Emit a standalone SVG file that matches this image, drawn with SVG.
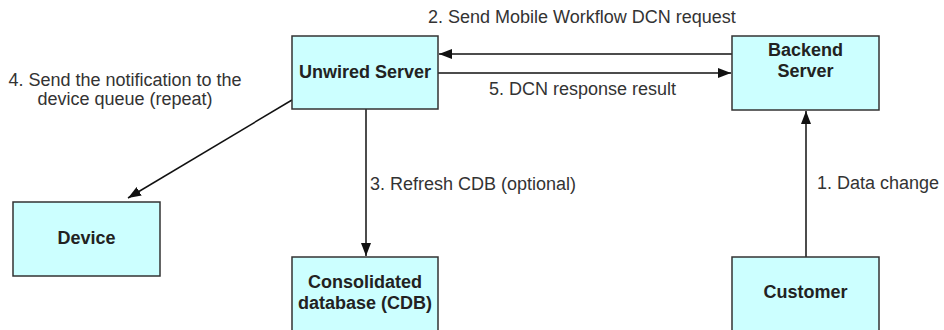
<svg xmlns="http://www.w3.org/2000/svg" width="944" height="330" viewBox="0 0 944 330">
<style>
.box{fill:#ccffff;stroke:#333;stroke-width:1.5}
.nl{font-family:"Liberation Sans",Arial,sans-serif;font-weight:bold;font-size:18px;fill:#222;text-anchor:middle}
.lbl{font-family:"Liberation Sans",Arial,sans-serif;font-size:18px;fill:#333}
.con{stroke:#111;stroke-width:1.5;fill:none;marker-end:url(#ah)}
</style>
<defs>
<marker id="ah" markerUnits="userSpaceOnUse" markerWidth="14" markerHeight="10" refX="13" refY="5" orient="auto">
<path d="M0,0 L13,5 L0,10 Z" fill="#111"/>
</marker>
</defs>
<rect width="944" height="330" fill="#fff"/>
<g id="connectors">
<line class="con" x1="732" y1="54" x2="439" y2="54"/>
<line class="con" x1="438" y1="73" x2="731" y2="73"/>
<line class="con" x1="366" y1="109" x2="366" y2="256"/>
<line class="con" x1="806" y1="257" x2="806" y2="111"/>
<line class="con" x1="292" y1="100" x2="128" y2="198"/>
</g>
<g id="labels">
<text class="lbl" x="428" y="23">2. Send Mobile Workflow DCN request</text>
<text class="lbl" x="489" y="95">5. DCN response result</text>
<text class="lbl" x="125" y="86" text-anchor="middle">4. Send the notification to the</text>
<text class="lbl" x="125" y="104.5" text-anchor="middle">device queue (repeat)</text>
<text class="lbl" x="370" y="190">3. Refresh CDB (optional)</text>
<text class="lbl" x="817" y="189">1. Data change</text>
</g>
<g id="unwired">
<rect class="box" x="292" y="36" width="146" height="73"/>
<text class="nl" x="365" y="78">Unwired Server</text>
</g>
<g id="backend">
<rect class="box" x="732" y="36" width="147" height="74"/>
<text class="nl" x="805.5" y="56">Backend</text>
<text class="nl" x="805.5" y="77">Server</text>
</g>
<g id="device">
<rect class="box" x="13" y="202" width="147" height="74"/>
<text class="nl" x="86.5" y="244">Device</text>
</g>
<g id="cdb">
<rect class="box" x="292" y="257" width="146" height="80"/>
<text class="nl" x="365" y="288">Consolidated</text>
<text class="nl" x="365" y="309">database (CDB)</text>
</g>
<g id="customer">
<rect class="box" x="732" y="257" width="147" height="80"/>
<text class="nl" x="805.5" y="298">Customer</text>
</g>
</svg>
